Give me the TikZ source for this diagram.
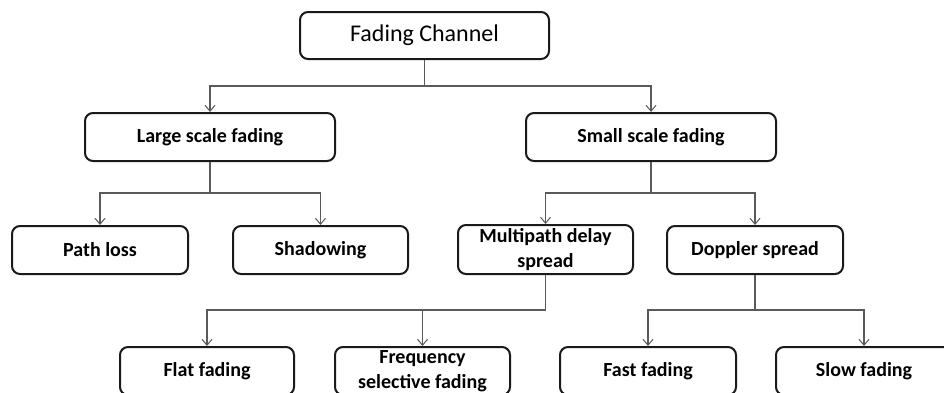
\documentclass[tikz,border=0pt]{standalone}
\usepackage{fontspec}
\setmainfont{Carlito}
\usetikzlibrary{arrows.meta}
\definecolor{boxline}{HTML}{1A1A1A}
\definecolor{linkline}{HTML}{5A5A5A}
\tikzset{
  box/.style={draw=boxline, line width=2pt, rounded corners=8pt, inner sep=0pt,
    align=center, font=\fontsize{20}{24.5}\selectfont\bfseries, text=black},
  link/.style={draw=linkline, line width=1.1pt},
  arrowlink/.style={link, -{Straight Barb[length=6pt,width=10pt,line width=1pt]}}
}
\begin{document}
\begin{tikzpicture}[x=1pt,y=-1pt]
  \useasboundingbox (0,0) rectangle (944,392);
  \clip (0,0) rectangle (944,392);
  \fill[white] (0,0) rectangle (944,392);

  % boxes
  \node[box, minimum width=249pt, minimum height=47pt,
        font=\fontsize{24}{26}\selectfont] (fc) at (424.5,35.5) {Fading Channel};
  \node[box, minimum width=250pt, minimum height=48pt] (lsf) at (210,137) {Large scale fading};
  \node[box, minimum width=250pt, minimum height=48pt] (ssf) at (651,137) {Small scale fading};
  \node[box, minimum width=176pt, minimum height=48pt] (pl) at (100,250) {Path loss};
  \node[box, minimum width=175pt, minimum height=48pt] (sh) at (320.5,250) {Shadowing};
  \node[box, minimum width=175pt, minimum height=49pt] (mds) at (545.5,249.5) {Multipath delay\\spread};
  \node[box, minimum width=176pt, minimum height=48pt] (ds) at (755,250) {Doppler spread};
  \node[box, minimum width=174pt, minimum height=48pt] (ff) at (207,371) {Flat fading};
  \node[box, minimum width=175pt, minimum height=48pt] (fsf) at (422.5,371) {Frequency\\selective fading};
  \node[box, minimum width=176pt, minimum height=48pt] (fast) at (648,371) {Fast fading};
  \node[box, minimum width=176pt, minimum height=48pt] (slow) at (864,371) {Slow fading};

  % junction points of the tree
  \coordinate (j0) at (424.5,86);
  \coordinate (j1) at (210,193);
  \coordinate (j2) at (651,193);
  \coordinate (j3) at (545.5,310);
  \coordinate (j4) at (755,310);

  % connectors
  \draw[link] (fc.south) -- (j0);
  \draw[arrowlink] (j0) -| (lsf.north);
  \draw[arrowlink] (j0) -| (ssf.north);

  \draw[link] (lsf.south) -- (j1);
  \draw[arrowlink] (j1) -| (pl.north);
  \draw[arrowlink] (j1) -| (sh.north);

  \draw[link] (ssf.south) -- (j2);
  \draw[arrowlink] (j2) -| (mds.north);
  \draw[arrowlink] (j2) -| (ds.north);

  \draw[link] (mds.south) -- (j3);
  \draw[arrowlink] (j3) -| (ff.north);
  \draw[arrowlink] (j3) -| (fsf.north);

  \draw[link] (ds.south) -- (j4);
  \draw[arrowlink] (j4) -| (fast.north);
  \draw[arrowlink] (j4) -| (slow.north);
\end{tikzpicture}
\end{document}
